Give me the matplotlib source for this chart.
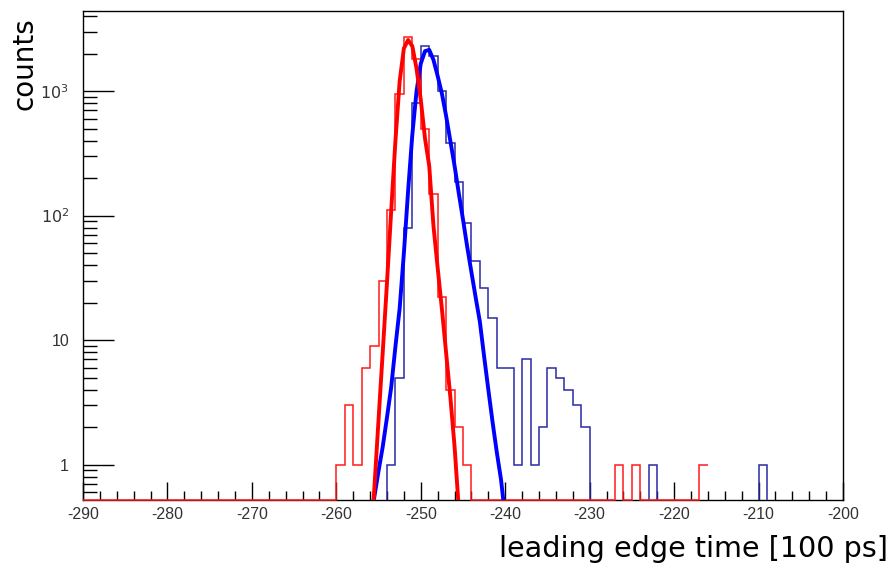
import numpy as np
import matplotlib
matplotlib.use("Agg")
import matplotlib.pyplot as plt
from matplotlib.ticker import FixedLocator, NullFormatter

plt.rcParams['axes.unicode_minus'] = False

# ---------------- data ----------------
# thin histograms, 1-unit bins, given by left bin edge
red_bins = [-260, -259, -258, -257, -256, -255, -254, -253, -252, -251, -250,
            -249, -248, -247, -246, -245, -227, -225, -217]
red_counts = [1, 3, 1, 6, 9, 30, 110, 950, 2700, 1800, 500,
              150, 22, 4, 2, 1, 1, 1, 1]
red_range = (-290, -216)

blue_bins = [-254, -253, -252, -251, -250, -249, -248, -247, -246, -245, -244,
             -243, -242, -241, -240, -239, -238, -237, -236, -235, -234, -233,
             -232, -231, -223, -210]
blue_counts = [1, 5, 80, 800, 2300, 1900, 1000, 380, 185, 87, 43,
               26, 15, 6, 6, 1, 7, 1, 2, 6, 5, 4,
               3, 2, 1, 1]
blue_range = (-290, -200)

# fitted curves (thick lines)
red_fit_x = [-255.6, -255.0, -254.5, -254.0, -253.5, -253.0, -252.5, -252.0,
             -251.5, -251.0, -250.5, -250.0, -249.5, -249.0, -248.5, -248.0,
             -247.5, -247.0, -246.5, -246.0, -245.55]
red_fit_y = [0.5, 2.3, 8.1, 29, 110, 400, 1200, 2200,
             2570, 2290, 1510, 850, 417, 250, 83, 38,
             17.8, 7.9, 3.5, 1.4, 0.5]

blue_fit_x = [-255.6, -255.0, -254.5, -254.0, -253.5, -253.0, -252.5, -252.0,
              -251.5, -251.0, -250.5, -250.0, -249.5, -249.0, -248.5, -248.0,
              -247.5, -247.0, -246.5, -246.0, -245.5, -245.0, -244.5, -244.0,
              -243.5, -243.0, -242.5, -242.0, -241.5, -241.0, -240.5, -240.2]
blue_fit_y = [0.5, 0.89, 1.4, 2.4, 4.2, 8.9, 18, 50,
              158, 447, 1000, 1660, 2090, 2140, 1780, 1320,
              955, 631, 398, 251, 151, 93, 56, 35,
              22, 14, 7.4, 4.0, 2.2, 1.26, 0.76, 0.5]

x_ticks = [-290, -280, -270, -260, -250, -240, -230, -220, -210, -200]
x_ticklabels = ["-290", "-280", "-270", "-260", "-250", "-240", "-230", "-220", "-210", "-200"]
y_ticks = [1, 10, 100, 1000]
y_ticklabels = ["1", "10", "$10^2$", "$10^3$"]
x_label = "leading edge time [100 ps]"
y_label = "counts"

YMIN, YMAX = 0.52, 4390


def full_hist(bins, counts, rng):
    edges = np.arange(rng[0], rng[1] + 1)
    vals = np.zeros(len(edges) - 1)
    for b, c in zip(bins, counts):
        vals[b - rng[0]] = c
    return edges, vals


fig = plt.figure(figsize=(8.92, 5.65), dpi=100)
ax = fig.add_axes([83 / 892, 1 - 500 / 565, 760 / 892, 489 / 565])
ax.set_yscale('log')

# red histogram (empty bins drawn along the bottom, as ROOT does)
re, rv = full_hist(red_bins, red_counts, red_range)
rv_draw = np.where(rv > 0, rv, YMIN)
ax.stairs(rv_draw, re, baseline=None, color='#ff1a1a', lw=1.1, zorder=4, clip_on=False)

# blue histogram
be, bv = full_hist(blue_bins, blue_counts, blue_range)
ax.stairs(bv, be, baseline=None, color='#2a2aa5', lw=1.1, zorder=3)

# fits
ax.plot(blue_fit_x, blue_fit_y, color='#0000ff', lw=2.8, zorder=5, solid_joinstyle='round')
ax.plot(red_fit_x, red_fit_y, color='#ff0000', lw=2.8, zorder=6, solid_joinstyle='round')

ax.set_xlim(-290, -200)
ax.set_ylim(YMIN, YMAX)

ax.xaxis.set_major_locator(FixedLocator(x_ticks))
ax.set_xticklabels(x_ticklabels)
ax.xaxis.set_minor_locator(FixedLocator(np.arange(-290, -199, 2)))
ax.xaxis.set_minor_formatter(NullFormatter())

ax.yaxis.set_major_locator(FixedLocator(y_ticks))
ax.set_yticklabels(y_ticklabels)
minor_y = [0.6, 0.7, 0.8, 0.9] + [m * d for d in (1, 10, 100) for m in range(2, 10)] + [2000, 3000, 4000]
ax.yaxis.set_minor_locator(FixedLocator(minor_y))
ax.yaxis.set_minor_formatter(NullFormatter())

ax.tick_params(axis='x', which='major', direction='in', length=13, width=1, pad=5,
               labelsize=11.5, colors='black')
ax.tick_params(axis='x', which='minor', direction='in', length=6.5, width=1)
ax.tick_params(axis='y', which='major', direction='in', length=22, width=1, pad=10,
               labelsize=11.5)
ax.tick_params(axis='y', which='minor', direction='in', length=10, width=1)
for lbl in ax.get_xticklabels() + ax.get_yticklabels():
    lbl.set_fontfamily('Liberation Sans')
    lbl.set_color('#333333')

for s in ax.spines.values():
    s.set_linewidth(1.0)
    s.set_color('black')

fig.text(888 / 892, 1 - 557 / 565, x_label, ha='right', va='baseline',
         fontsize=20.6, family='DejaVu Sans')
fig.text(25 / 892, 1 - 17 / 565, y_label, rotation=90, ha='center', va='top',
         fontsize=20, family='DejaVu Sans')

fig.savefig('out.png', dpi=100)
